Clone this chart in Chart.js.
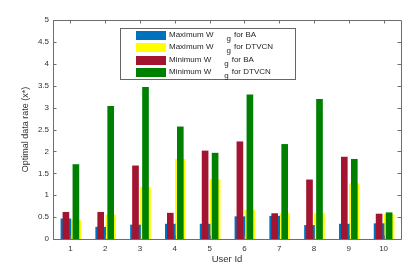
<!DOCTYPE html>
<html>
<head>
<meta charset="utf-8">
<script src="https://cdn.jsdelivr.net/npm/chart.js@4/dist/chart.umd.min.js"></script>
<style>
    html, body { margin: 0; padding: 0; background: #fff; }
    #wrap { position: relative; width: 415px; height: 277px; }
    #legend {
        position: absolute; left: 120px; top: 28px; width: 176px; height: 52px;
        box-sizing: border-box; border: 1px solid #666; background: #fff;
        font-family: "Liberation Sans", Arial, sans-serif; font-size: 8px; color: #262626;
    }
    .row { position: absolute; left: 15px; height: 9px; white-space: nowrap; }
    .swatch { position: absolute; left: 0; top: 0; width: 30px; height: 9px; }
    .label { position: absolute; left: 33px; top: -1px; line-height: 10px; }
    .sub { display: inline-block; position: relative; top: 4px; margin-left: 13px; margin-right: 3px; }
</style>
</head>
<body>
<div id="wrap">
    <canvas id="chart"></canvas>
    <div id="legend"></div>
</div>
<script>
const userIds = [1, 2, 3, 4, 5, 6, 7, 8, 9, 10];
const maxWgBA    = [0.46, 0.27, 0.32, 0.34, 0.34, 0.51, 0.52, 0.31, 0.34, 0.35];
const maxWgDTVCN = [0.42, 0.55, 1.18, 1.82, 1.36, 0.66, 0.58, 0.58, 1.26, 0.56];
const minWgBA    = [0.61, 0.61, 1.67, 0.59, 2.01, 2.22, 0.58, 1.35, 1.87, 0.57];
const minWgDTVCN = [1.70, 3.03, 3.46, 2.56, 1.96, 3.29, 2.16, 3.19, 1.82, 0.60];
const yTicks = [0, 0.5, 1, 1.5, 2, 2.5, 3, 3.5, 4, 4.5, 5];

const seriesNames = ['Maximum W_g for BA', 'Maximum W_g for DTVCN', 'Minimum W_g for BA', 'Minimum W_g for DTVCN'];
const seriesColors = ['#0072BD', '#FFFF00', '#A2142F', '#008000'];

const axisColor = '#6e6e6e';
const textColor = '#333333';
const font = 'Liberation Sans';

// wide bars (blue/yellow) sit behind narrow bars (red/green), pairs shifted left/right
const unitPx = 34.8;
const leftShift = -4.5 / unitPx;
const rightShift = 5.5 / unitPx;

function toPoints(values, shift) {
    return values.map((v, i) => ({ x: userIds[i] + shift, y: v }));
}

const datasets = [
    { label: seriesNames[2], data: toPoints(minWgBA, leftShift), backgroundColor: seriesColors[2], barThickness: 6, order: 1 },
    { label: seriesNames[3], data: toPoints(minWgDTVCN, rightShift), backgroundColor: seriesColors[3], barThickness: 6, order: 1 },
    { label: seriesNames[0], data: toPoints(maxWgBA, leftShift), backgroundColor: seriesColors[0], barThickness: 10, order: 2 },
    { label: seriesNames[1], data: toPoints(maxWgDTVCN, rightShift), backgroundColor: seriesColors[1], barThickness: 10, order: 2 }
];

// box with inward ticks, MATLAB style
const boxPlugin = {
    id: 'box',
    afterDraw(chart) {
        const ctx = chart.ctx;
        const a = chart.chartArea;
        const xs = chart.scales.x;
        const ys = chart.scales.y;
        const t = 3.5;
        ctx.save();
        ctx.strokeStyle = axisColor;
        ctx.lineWidth = 1;
        ctx.beginPath();
        ctx.rect(Math.round(a.left) + 0.5, Math.round(a.top) + 0.5,
                 Math.round(a.right - a.left), Math.round(a.bottom - a.top));
        userIds.forEach(v => {
            const px = Math.round(xs.getPixelForValue(v)) + 0.5;
            ctx.moveTo(px, a.bottom); ctx.lineTo(px, a.bottom - t);
            ctx.moveTo(px, a.top); ctx.lineTo(px, a.top + t);
        });
        yTicks.forEach(v => {
            const py = Math.round(ys.getPixelForValue(v)) + 0.5;
            ctx.moveTo(a.left, py); ctx.lineTo(a.left + t, py);
            ctx.moveTo(a.right, py); ctx.lineTo(a.right - t, py);
        });
        ctx.stroke();
        ctx.restore();
    }
};

new Chart(document.getElementById('chart'), {
    type: 'bar',
    data: { datasets: datasets },
    options: {
        responsive: true,
        maintainAspectRatio: false,
        animation: false,
        layout: { padding: { top: 20, right: 14, left: 0, bottom: 0 } },
        datasets: { bar: { grouped: false, borderWidth: 0 } },
        plugins: {
            legend: { display: false },
            tooltip: { enabled: false }
        },
        scales: {
            x: {
                type: 'linear',
                min: 0.5,
                max: 10.5,
                offset: false,
                afterBuildTicks: s => { s.ticks = userIds.map(v => ({ value: v })); },
                afterFit: s => { s.height = 38; },
                grid: { display: false, drawTicks: false },
                border: { display: false },
                ticks: { color: textColor, font: { family: font, size: 8 }, padding: 5, maxRotation: 0, callback: v => String(v) },
                title: { display: true, text: 'User Id', color: textColor, font: { family: font, size: 9.5 }, padding: { top: 0, bottom: 12 } }
            },
            y: {
                min: 0,
                max: 5,
                afterBuildTicks: s => { s.ticks = yTicks.map(v => ({ value: v })); },
                afterFit: s => { s.width = 53; },
                grid: { display: false, drawTicks: false },
                border: { display: false },
                ticks: { color: textColor, font: { family: font, size: 8 }, padding: 4, callback: v => String(v) },
                title: { display: true, text: 'Optimal data rate (x*)', color: textColor, font: { family: font, size: 9 }, padding: { top: 20, bottom: 0 } }
            }
        }
    },
    plugins: [boxPlugin]
});

// legend built from the series names and colours
const legendEl = document.getElementById('legend');
seriesNames.forEach((name, i) => {
    const [head, tail] = name.split('_g');
    const row = document.createElement('div');
    row.className = 'row';
    row.style.top = (2 + i * 12.3) + 'px';
    row.innerHTML = '<div class="swatch" style="background:' + seriesColors[i] + '"></div>' +
        '<div class="label">' + head + '<span class="sub">g</span>' + tail.trim() + '</div>';
    legendEl.appendChild(row);
});
</script>
</body>
</html>
